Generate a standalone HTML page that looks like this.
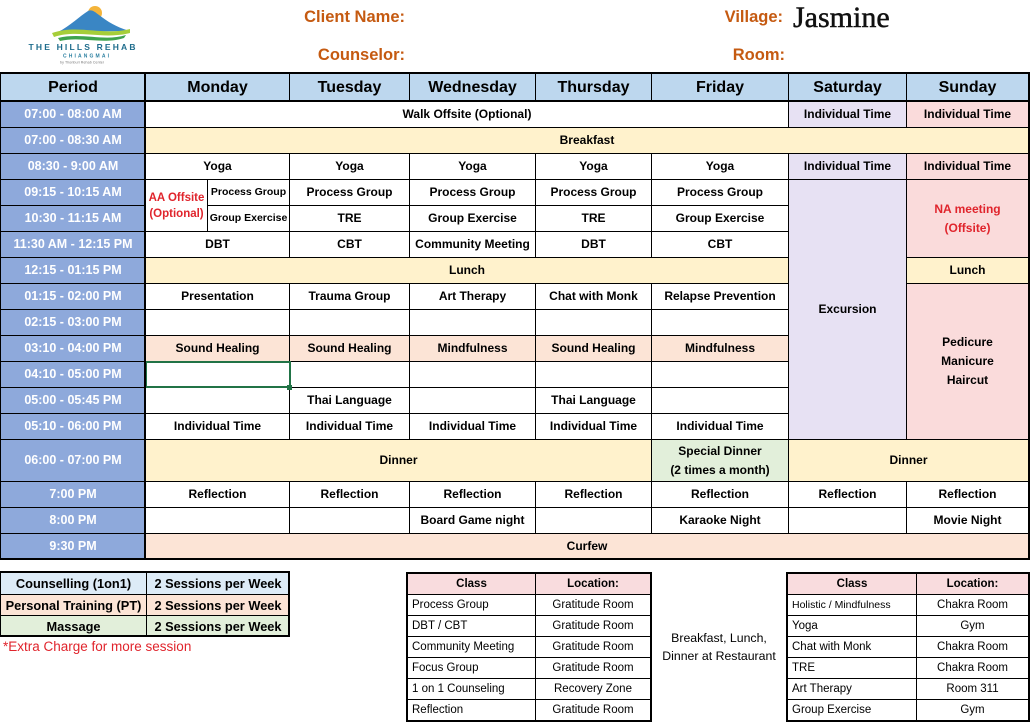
<!DOCTYPE html>
<html><head><meta charset="utf-8">
<style>
html,body{margin:0;padding:0;background:#fff;}
body{width:1031px;height:724px;position:relative;overflow:hidden;font-family:"Liberation Sans",sans-serif;}
.c{position:absolute;box-sizing:border-box;border:1px solid #000;display:flex;align-items:center;justify-content:center;text-align:center;font-weight:bold;font-size:12px;color:#000;background:#fff;white-space:nowrap;line-height:19px;}
.h{background:#BDD7EE;font-size:16px;}
.p{background:#8EA9DB;color:#fff;font-size:12.5px;}
.y{background:#FFF2CC;}
.pc{background:#FCE4D6;}
.lv{background:#E7E1F3;}
.pk{background:#FADBDB;}
.gr{background:#E2EFDA;}
.red{color:#E0242C;}
.pe{left:0;width:146px}
.mo{left:145px;width:145px}
.tu{left:289px;width:121px}
.we{left:409px;width:127px}
.th{left:535px;width:117px}
.fr{left:651px;width:138px}
.sa{left:788px;width:119px}
.su{left:906px;width:123px}
.r0{top:73px;height:29px}
.r1{top:101px;height:27px}
.r2{top:127px;height:27px}
.r3{top:153px;height:27px}
.r4{top:179px;height:27px}
.r5{top:205px;height:27px}
.r6{top:231px;height:27px}
.r7{top:257px;height:27px}
.r8{top:283px;height:27px}
.r9{top:309px;height:27px}
.r10{top:335px;height:27px}
.r11{top:361px;height:27px}
.r12{top:387px;height:27px}
.r13{top:413px;height:27px}
.r14{top:439px;height:43px}
.r15{top:481px;height:27px}
.r16{top:507px;height:27px}
.r17{top:533px;height:26px}
.bl{position:absolute;background:#000;}
.lab{position:absolute;color:#C55A11;font-weight:bold;font-size:16.5px;line-height:20px;text-align:right;white-space:nowrap;}
.l{position:absolute;box-sizing:border-box;border:1px solid #000;display:flex;align-items:center;font-size:11.5px;color:#000;background:#fff;white-space:nowrap;}
.lc{justify-content:center;}
.ll{justify-content:flex-start;padding-left:4px;}
.lh{background:#F9DCDE;font-weight:bold;justify-content:center;}
.lg{position:absolute;box-sizing:border-box;border:1px solid #000;display:flex;align-items:center;justify-content:center;font-weight:bold;font-size:12.8px;white-space:nowrap;}
</style></head>
<body>

<!-- Logo -->
<svg style="position:absolute;left:0;top:0" width="150" height="70" viewBox="0 0 150 70">
  <circle cx="95" cy="13" r="7" fill="#F4B43A"/>
  <path d="M58,32 C70,26 80,16 88,11 C92,9 95,12 99,15 C108,22 118,28 130,31 Z" fill="#3A86C4"/>
  <path d="M52,33 C78,24 102,36 130,29 L130,33 C102,40 78,29 54,37 Z" fill="#A6CE39"/>
  <path d="M58,38 C82,32 104,42 126,35 L124,38 C102,45 82,36 60,41 Z" fill="#3FA34D"/>
  <text x="82" y="50" text-anchor="middle" font-family="Liberation Sans" font-weight="bold" font-size="8.5" fill="#1E6C8C" textLength="107" lengthAdjust="spacing">THE HILLS REHAB</text>
  <text x="86" y="57.5" text-anchor="middle" font-family="Liberation Sans" font-weight="bold" font-size="5" fill="#2A7FA0" textLength="46" lengthAdjust="spacing">CHIANGMAI</text>
  <text x="82" y="63.5" text-anchor="middle" font-family="Liberation Sans" font-size="3.6" fill="#777" textLength="44" lengthAdjust="spacing">by Thonburi Rehab Center</text>
</svg>

<!-- Header labels -->
<div class="lab" style="right:626px;top:7px;">Client Name:</div>
<div class="lab" style="right:626px;top:45px;">Counselor:</div>
<div class="lab" style="right:248px;top:7px;">Village:</div>
<div class="lab" style="right:246px;top:45px;">Room:</div>
<div style="position:absolute;left:793px;top:1px;font-family:'Liberation Serif',serif;font-size:30px;line-height:34px;color:#111;-webkit-text-stroke:0.5px #111;">Jasmine</div>

<!-- Header row -->
<div class="c h pe r0">Period</div>
<div class="c h mo r0">Monday</div>
<div class="c h tu r0">Tuesday</div>
<div class="c h we r0">Wednesday</div>
<div class="c h th r0">Thursday</div>
<div class="c h fr r0">Friday</div>
<div class="c h sa r0">Saturday</div>
<div class="c h su r0">Sunday</div>

<!-- Period column -->
<div class="c p pe r1">07:00 - 08:00 AM</div>
<div class="c p pe r2">07:00 - 08:30 AM</div>
<div class="c p pe r3">08:30 - 9:00 AM</div>
<div class="c p pe r4">09:15 - 10:15 AM</div>
<div class="c p pe r5">10:30 - 11:15 AM</div>
<div class="c p pe r6">11:30 AM - 12:15 PM</div>
<div class="c p pe r7">12:15 - 01:15 PM</div>
<div class="c p pe r8">01:15 - 02:00 PM</div>
<div class="c p pe r9">02:15 - 03:00 PM</div>
<div class="c p pe r10">03:10 - 04:00 PM</div>
<div class="c p pe r11">04:10 - 05:00 PM</div>
<div class="c p pe r12">05:00 - 05:45 PM</div>
<div class="c p pe r13">05:10 - 06:00 PM</div>
<div class="c p pe r14">06:00 - 07:00 PM</div>
<div class="c p pe r15">7:00 PM</div>
<div class="c p pe r16">8:00 PM</div>
<div class="c p pe r17">9:30 PM</div>

<!-- Row 1 -->
<div class="c r1" style="left:145px;width:644px;">Walk Offsite (Optional)</div>
<div class="c lv sa r1">Individual Time</div>
<div class="c pk su r1">Individual Time</div>
<!-- Row 2 -->
<div class="c y r2" style="left:145px;width:884px;">Breakfast</div>
<!-- Row 3 -->
<div class="c mo r3">Yoga</div>
<div class="c tu r3">Yoga</div>
<div class="c we r3">Yoga</div>
<div class="c th r3">Yoga</div>
<div class="c fr r3">Yoga</div>
<div class="c lv sa r3">Individual Time</div>
<div class="c pk su r3">Individual Time</div>
<!-- Row 4-5 -->
<div class="c red" style="left:145px;width:63px;top:179px;height:53px;font-size:11.5px;line-height:16px;">AA Offsite<br>(Optional)</div>
<div class="c r4" style="left:207px;width:83px;font-size:10.5px;">Process Group</div>
<div class="c r5" style="left:207px;width:83px;font-size:10.5px;">Group Exercise</div>
<div class="c tu r4">Process Group</div>
<div class="c we r4">Process Group</div>
<div class="c th r4">Process Group</div>
<div class="c fr r4">Process Group</div>
<div class="c tu r5">TRE</div>
<div class="c we r5">Group Exercise</div>
<div class="c th r5">TRE</div>
<div class="c fr r5">Group Exercise</div>
<div class="c lv sa" style="top:179px;height:261px;">Excursion</div>
<div class="c pk su red" style="top:179px;height:79px;">NA meeting<br>(Offsite)</div>
<!-- Row 6 -->
<div class="c mo r6">DBT</div>
<div class="c tu r6">CBT</div>
<div class="c we r6">Community Meeting</div>
<div class="c th r6">DBT</div>
<div class="c fr r6">CBT</div>
<!-- Row 7 -->
<div class="c y r7" style="left:145px;width:644px;">Lunch</div>
<div class="c y su r7">Lunch</div>
<!-- Row 8 -->
<div class="c mo r8">Presentation</div>
<div class="c tu r8">Trauma Group</div>
<div class="c we r8">Art Therapy</div>
<div class="c th r8">Chat with Monk</div>
<div class="c fr r8">Relapse Prevention</div>
<div class="c pk su" style="top:283px;height:157px;">Pedicure<br>Manicure<br>Haircut</div>
<!-- Row 9 -->
<div class="c mo r9"></div>
<div class="c tu r9"></div>
<div class="c we r9"></div>
<div class="c th r9"></div>
<div class="c fr r9"></div>
<!-- Row 10 -->
<div class="c pc mo r10">Sound Healing</div>
<div class="c pc tu r10">Sound Healing</div>
<div class="c pc we r10">Mindfulness</div>
<div class="c pc th r10">Sound Healing</div>
<div class="c pc fr r10">Mindfulness</div>
<!-- Row 11 -->
<div class="c mo r11"></div>
<div class="c tu r11"></div>
<div class="c we r11"></div>
<div class="c th r11"></div>
<div class="c fr r11"></div>
<!-- Row 12 -->
<div class="c mo r12"></div>
<div class="c tu r12">Thai Language</div>
<div class="c we r12"></div>
<div class="c th r12">Thai Language</div>
<div class="c fr r12"></div>
<!-- Row 13 -->
<div class="c mo r13">Individual Time</div>
<div class="c tu r13">Individual Time</div>
<div class="c we r13">Individual Time</div>
<div class="c th r13">Individual Time</div>
<div class="c fr r13">Individual Time</div>
<!-- Row 14 -->
<div class="c y r14" style="left:145px;width:507px;">Dinner</div>
<div class="c gr fr r14">Special Dinner<br>(2 times a month)</div>
<div class="c y r14" style="left:788px;width:241px;">Dinner</div>
<!-- Row 15 -->
<div class="c mo r15">Reflection</div>
<div class="c tu r15">Reflection</div>
<div class="c we r15">Reflection</div>
<div class="c th r15">Reflection</div>
<div class="c fr r15">Reflection</div>
<div class="c sa r15">Reflection</div>
<div class="c su r15">Reflection</div>
<!-- Row 16 -->
<div class="c mo r16"></div>
<div class="c tu r16"></div>
<div class="c we r16">Board Game night</div>
<div class="c th r16"></div>
<div class="c fr r16">Karaoke Night</div>
<div class="c sa r16"></div>
<div class="c su r16">Movie Night</div>
<!-- Row 17 -->
<div class="c pc r17" style="left:145px;width:884px;">Curfew</div>

<!-- Selection box -->
<div style="position:absolute;left:145px;top:361px;width:146px;height:27px;box-sizing:border-box;border:2px solid #217346;"></div>
<div style="position:absolute;left:287px;top:385px;width:5px;height:5px;background:#217346;"></div>

<!-- Thick lines -->
<div style="position:absolute;left:-1px;top:72px;width:1031px;height:488px;box-sizing:border-box;border:2px solid #000;"></div>
<div class="bl" style="left:0;top:100px;width:1029px;height:2px;"></div>
<div class="bl" style="left:144px;top:73px;width:2px;height:486px;"></div>

<!-- Bottom-left legend -->
<div class="lg" style="left:0;top:572px;width:147px;height:23px;background:#DDEBF7;">Counselling (1on1)</div>
<div class="lg" style="left:146px;top:572px;width:144px;height:23px;background:#DDEBF7;">2 Sessions per Week</div>
<div class="lg" style="left:0;top:594px;width:147px;height:22px;background:#FCE4D6;">Personal Training (PT)</div>
<div class="lg" style="left:146px;top:594px;width:144px;height:22px;background:#FCE4D6;">2 Sessions per Week</div>
<div class="lg" style="left:0;top:615px;width:147px;height:22px;background:#E2EFDA;">Massage</div>
<div class="lg" style="left:146px;top:615px;width:144px;height:22px;background:#E2EFDA;">2 Sessions per Week</div>
<div style="position:absolute;left:-1px;top:571px;width:291px;height:66px;box-sizing:border-box;border:2px solid #000;"></div>
<div style="position:absolute;left:3px;top:638px;font-size:13.5px;line-height:18px;color:#E0242C;white-space:nowrap;">*Extra Charge for more session</div>

<!-- Middle legend -->
<div class="l lh" style="left:407px;top:573px;width:129px;height:22px;">Class</div>
<div class="l lh" style="left:535px;top:573px;width:116px;height:22px;">Location:</div>
<div class="l ll" style="left:407px;top:594px;width:129px;height:22px;">Process Group</div>
<div class="l lc" style="left:535px;top:594px;width:116px;height:22px;">Gratitude Room</div>
<div class="l ll" style="left:407px;top:615px;width:129px;height:22px;">DBT / CBT</div>
<div class="l lc" style="left:535px;top:615px;width:116px;height:22px;">Gratitude Room</div>
<div class="l ll" style="left:407px;top:636px;width:129px;height:22px;">Community Meeting</div>
<div class="l lc" style="left:535px;top:636px;width:116px;height:22px;">Gratitude Room</div>
<div class="l ll" style="left:407px;top:657px;width:129px;height:22px;">Focus Group</div>
<div class="l lc" style="left:535px;top:657px;width:116px;height:22px;">Gratitude Room</div>
<div class="l ll" style="left:407px;top:678px;width:129px;height:22px;">1 on 1 Counseling</div>
<div class="l lc" style="left:535px;top:678px;width:116px;height:22px;">Recovery Zone</div>
<div class="l ll" style="left:407px;top:699px;width:129px;height:22px;">Reflection</div>
<div class="l lc" style="left:535px;top:699px;width:116px;height:22px;">Gratitude Room</div>
<div style="position:absolute;left:406px;top:572px;width:246px;height:150px;box-sizing:border-box;border:2px solid #000;"></div>

<div style="position:absolute;left:652px;top:629px;width:134px;text-align:center;font-size:12.3px;line-height:18px;color:#000;white-space:nowrap;">Breakfast, Lunch,<br>Dinner at Restaurant</div>

<!-- Right legend -->
<div class="l lh" style="left:787px;top:573px;width:130px;height:22px;">Class</div>
<div class="l lh" style="left:916px;top:573px;width:113px;height:22px;">Location:</div>
<div class="l ll" style="left:787px;top:594px;width:130px;height:22px;font-size:10.5px;">Holistic / Mindfulness</div>
<div class="l lc" style="left:916px;top:594px;width:113px;height:22px;">Chakra Room</div>
<div class="l ll" style="left:787px;top:615px;width:130px;height:22px;">Yoga</div>
<div class="l lc" style="left:916px;top:615px;width:113px;height:22px;">Gym</div>
<div class="l ll" style="left:787px;top:636px;width:130px;height:22px;">Chat with Monk</div>
<div class="l lc" style="left:916px;top:636px;width:113px;height:22px;">Chakra Room</div>
<div class="l ll" style="left:787px;top:657px;width:130px;height:22px;">TRE</div>
<div class="l lc" style="left:916px;top:657px;width:113px;height:22px;">Chakra Room</div>
<div class="l ll" style="left:787px;top:678px;width:130px;height:22px;">Art Therapy</div>
<div class="l lc" style="left:916px;top:678px;width:113px;height:22px;">Room 311</div>
<div class="l ll" style="left:787px;top:699px;width:130px;height:22px;">Group Exercise</div>
<div class="l lc" style="left:916px;top:699px;width:113px;height:22px;">Gym</div>
<div style="position:absolute;left:786px;top:572px;width:244px;height:150px;box-sizing:border-box;border:2px solid #000;"></div>

</body></html>
